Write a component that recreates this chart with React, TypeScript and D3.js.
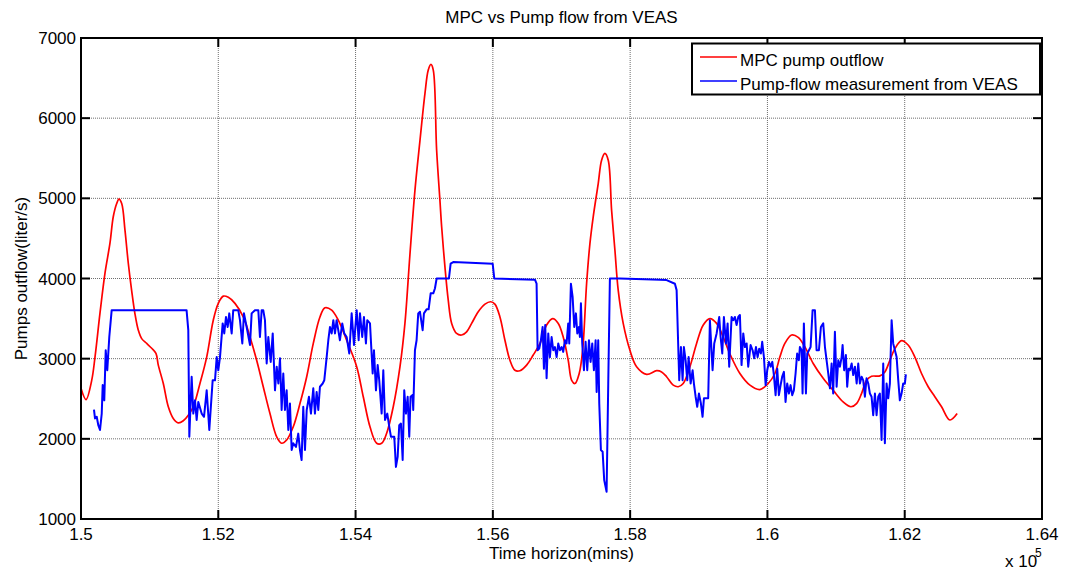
import React from "react";
import * as d3 from "d3";

const title = "MPC vs Pump flow from VEAS";
const xLabel = "Time horizon(mins)";
const yLabel = "Pumps outflow(liter/s)";
const seriesNames = ["MPC pump outflow", "Pump-flow measurement from VEAS"];
const seriesColors = ["#ff0000", "#0000ff"];

const xTicks = [150000, 152000, 154000, 156000, 158000, 160000, 162000, 164000];
const xTickLabels = ["1.5", "1.52", "1.54", "1.56", "1.58", "1.6", "1.62", "1.64"];
const yTicks = [1000, 2000, 3000, 4000, 5000, 6000, 7000];

// [time (mins), flow (liter/s)]
const mpcOutflow: [number, number][] = [
  [150000, 2630], [150073, 2490], [150156, 2730], [150204, 3020], [150277, 3570],
  [150350, 4070], [150422, 4440], [150470, 4770], [150520, 4935], [150553, 4990],
  [150593, 4935], [150641, 4600], [150689, 4190], [150738, 3850], [150786, 3560],
  [150835, 3355], [150884, 3250], [150957, 3190], [151030, 3130], [151092, 3065],
  [151126, 2920], [151199, 2690], [151272, 2400], [151344, 2255], [151417, 2200],
  [151490, 2225], [151563, 2295], [151636, 2400], [151733, 2690], [151831, 3020],
  [151927, 3480], [152000, 3690], [152073, 3780], [152146, 3765], [152243, 3690],
  [152364, 3520], [152462, 3270], [152559, 2980], [152655, 2650], [152753, 2315],
  [152851, 2025], [152923, 1945], [152996, 1985], [153092, 2150], [153190, 2440],
  [153288, 2775], [153384, 3190], [153481, 3520], [153554, 3635], [153652, 3605],
  [153748, 3480], [153870, 3230], [154016, 2900], [154112, 2525], [154210, 2150],
  [154307, 1945], [154380, 1945], [154453, 2070], [154549, 2400], [154647, 2900],
  [154719, 3440], [154792, 4300], [154865, 5100], [154938, 5720], [155011, 6310],
  [155059, 6600], [155098, 6670], [155132, 6600], [155181, 5600], [155229, 4975],
  [155254, 4645], [155302, 4145], [155350, 3730], [155400, 3440], [155472, 3315],
  [155545, 3295], [155618, 3335], [155691, 3440], [155787, 3585], [155885, 3680],
  [155968, 3710], [156030, 3680], [156103, 3520], [156176, 3230], [156249, 2980],
  [156322, 2855], [156394, 2850], [156492, 2920], [156588, 3045], [156686, 3190],
  [156783, 3420], [156871, 3500], [156953, 3440], [157025, 3270], [157098, 2980],
  [157148, 2730], [157196, 2690], [157258, 2815], [157308, 3105], [157366, 3940],
  [157414, 4435], [157462, 4770], [157535, 5185], [157584, 5475], [157632, 5560],
  [157681, 5475], [157730, 4850], [157778, 4355], [157826, 3855], [157899, 3440],
  [157997, 3105], [158094, 2900], [158240, 2805], [158386, 2850], [158458, 2835],
  [158531, 2775], [158628, 2670], [158701, 2650], [158773, 2690], [158871, 2900],
  [158968, 3190], [159065, 3420], [159162, 3500], [159260, 3440], [159356, 3270],
  [159453, 3060], [159599, 2815], [159745, 2670], [159890, 2615], [160011, 2690],
  [160109, 2815], [160181, 3020], [160254, 3190], [160352, 3295], [160448, 3265],
  [160546, 3145], [160667, 2940], [160812, 2755], [160958, 2605], [161103, 2460],
  [161216, 2400], [161298, 2440], [161371, 2565], [161444, 2730], [161517, 2780],
  [161638, 2785], [161711, 2835], [161784, 2980], [161857, 3125], [161954, 3225],
  [162050, 3170], [162148, 3020], [162245, 2815], [162342, 2650], [162439, 2525],
  [162537, 2400], [162658, 2235], [162764, 2315],
];

const veasFlow: [number, number][] = [
  [150189, 2365], [150204, 2255], [150229, 2275], [150252, 2170], [150277, 2110],
  [150302, 2315], [150316, 2670], [150339, 2480], [150360, 3105], [150383, 2855],
  [150412, 3270], [150447, 3605], [151538, 3605], [151563, 3355], [151578, 2025],
  [151612, 2775], [151636, 2315], [151661, 2480], [151685, 2235], [151709, 2460],
  [151758, 2315], [151792, 2275], [151831, 2605], [151869, 2110], [151918, 2730],
  [151952, 2730], [151977, 3020], [152000, 2855], [152025, 3020], [152064, 3440],
  [152087, 3315], [152112, 3520], [152137, 3395], [152160, 3565], [152195, 3315],
  [152218, 3605], [152291, 3605], [152316, 3480], [152350, 3190], [152374, 3565],
  [152413, 3395], [152462, 3170], [152486, 3565], [152534, 3605], [152583, 3605],
  [152607, 3270], [152632, 3605], [152655, 3605], [152680, 3480], [152705, 2940],
  [152729, 3270], [152764, 2960], [152793, 3315], [152826, 2605], [152851, 2900],
  [152875, 2690], [152899, 3005], [152923, 2360], [152947, 2815], [152971, 2360],
  [152996, 2605], [153020, 2110], [153044, 2440], [153069, 1860], [153092, 1945],
  [153132, 1900], [153165, 2065], [153190, 1860], [153214, 1735], [153238, 2400],
  [153263, 1860], [153288, 2360], [153321, 2525], [153350, 2315], [153384, 2630],
  [153408, 2315], [153433, 2585], [153457, 2360], [153481, 2650], [153521, 2690],
  [153544, 2730], [153579, 3020], [153603, 3230], [153627, 3395], [153652, 3315],
  [153676, 3480], [153700, 3315], [153724, 3480], [153748, 3355], [153772, 3230],
  [153806, 3440], [153835, 3315], [153870, 3270], [153908, 3065], [153943, 3565],
  [153977, 3170], [154016, 3605], [154045, 3230], [154064, 3565], [154097, 3270],
  [154122, 3520], [154151, 3190], [154170, 3480], [154210, 3440], [154249, 2815],
  [154268, 3105], [154297, 2605], [154322, 2920], [154345, 2730], [154380, 2315],
  [154404, 2855], [154429, 2235], [154462, 2315], [154491, 2150], [154516, 2025],
  [154564, 2025], [154588, 1650], [154613, 1775], [154636, 2170], [154661, 2190],
  [154686, 1735], [154709, 2605], [154734, 2315], [154759, 2525], [154782, 2025],
  [154801, 2525], [154830, 2545], [154840, 2360], [154865, 3105], [154889, 3230],
  [154913, 3565], [154938, 3585], [154977, 3355], [154996, 3565], [155035, 3615],
  [155064, 3615], [155094, 3815], [155132, 3815], [155156, 3875], [155181, 4000],
  [155360, 4000], [155385, 4185], [155423, 4205], [155997, 4185], [156021, 4000],
  [156613, 3985], [156637, 3935], [156652, 3105], [156676, 3125], [156700, 3230],
  [156725, 3395], [156744, 2875], [156763, 3420], [156783, 2755], [156807, 3315],
  [156831, 3020], [156856, 3270], [156880, 3105], [156904, 3145], [156929, 3020],
  [156953, 3190], [156977, 3105], [157002, 3145], [157025, 3085], [157050, 3230],
  [157074, 3190], [157098, 3440], [157113, 3190], [157137, 3935], [157162, 3770],
  [157186, 3395], [157210, 3565], [157230, 3315], [157254, 3395], [157268, 3270],
  [157283, 3690], [157302, 3190], [157327, 2855], [157351, 3210], [157375, 2855],
  [157400, 3230], [157424, 2960], [157448, 3190], [157472, 2855], [157497, 3230],
  [157512, 2585], [157535, 3230], [157550, 2440], [157574, 1860], [157599, 1840],
  [157622, 1485], [157657, 1340], [157681, 2690], [157705, 4000], [157851, 4000],
  [158434, 3985], [158531, 3980], [158652, 3935], [158677, 3855], [158715, 2730],
  [158740, 3145], [158764, 2730], [158783, 3145], [158808, 2980], [158832, 2730],
  [158852, 3020], [158881, 2690], [158910, 2855], [158929, 2690], [158954, 2525],
  [158977, 2400], [159002, 2565], [159031, 2440], [159055, 2275], [159075, 2505],
  [159137, 2505], [159162, 3480], [159201, 2855], [159225, 3190], [159260, 3315],
  [159298, 3520], [159318, 3270], [159342, 3065], [159366, 3520], [159396, 3190],
  [159420, 3440], [159443, 2900], [159478, 3520], [159502, 3480], [159526, 3520],
  [159551, 3420], [159575, 3520], [159599, 3545], [159623, 2920], [159648, 3315],
  [159672, 3145], [159697, 3190], [159720, 2900], [159755, 3170], [159784, 3105],
  [159808, 3005], [159833, 3145], [159857, 3020], [159880, 3125], [159905, 3065],
  [159924, 3210], [159949, 3020], [159974, 2670], [159997, 2855], [160022, 2960],
  [160047, 2900], [160071, 2960], [160094, 2795], [160119, 2545], [160143, 2875],
  [160167, 2545], [160192, 2670], [160215, 2775], [160240, 2835], [160264, 2460],
  [160288, 2690], [160313, 2565], [160337, 2670], [160361, 2545], [160385, 2605],
  [160410, 2815], [160433, 3065], [160458, 2980], [160473, 3145], [160498, 3105],
  [160512, 2565], [160531, 3440], [160561, 2565], [160580, 3065], [160605, 3105],
  [160629, 3145], [160658, 3605], [160692, 3605], [160716, 3105], [160750, 3105],
  [160779, 3395], [160813, 3440], [160838, 3145], [160862, 2980], [160886, 2815],
  [160911, 2630], [160935, 2940], [160958, 2565], [160983, 3335], [161008, 2650],
  [161032, 2980], [161056, 2900], [161081, 3020], [161095, 3170], [161118, 2855],
  [161143, 3045], [161162, 2650], [161183, 2875], [161202, 2855], [161227, 2940],
  [161250, 2795], [161275, 2900], [161300, 2690], [161323, 2940], [161347, 2690],
  [161372, 2775], [161396, 2730], [161420, 2525], [161444, 2755], [161469, 2690],
  [161493, 2565], [161517, 2525], [161541, 2295], [161566, 2565], [161590, 2295],
  [161614, 2525], [161638, 2565], [161663, 1985], [161687, 2940], [161711, 1945],
  [161736, 2690], [161760, 2505], [161784, 2690], [161809, 3480], [161832, 3190],
  [161857, 3105], [161882, 3020], [161906, 2730], [161929, 2480], [161954, 2565],
  [161978, 2690], [162002, 2690], [162017, 2805],
];

const W = 1070;
const H = 571;
const m = { left: 81, right: 1042, top: 38, bottom: 519 };
const FONT = "'Liberation Sans', Arial, Helvetica, sans-serif";

export default function App() {
  const x = d3.scaleLinear().domain([150000, 164000]).range([m.left, m.right]);
  const y = d3.scaleLinear().domain([1000, 7000]).range([m.bottom, m.top]);
  const smoothLine = d3
    .line<[number, number]>()
    .x((d) => x(d[0]))
    .y((d) => y(d[1]))
    .curve(d3.curveCatmullRom.alpha(0.5));
  const line = d3
    .line<[number, number]>()
    .x((d) => x(d[0]))
    .y((d) => y(d[1]));
  const tickLen = 9;

  return (
    <svg
      width={W}
      height={H}
      style={{ position: "absolute", left: 0, top: 0, background: "#fff" }}
      fontFamily={FONT}
    >
      <rect x={0} y={0} width={W} height={H} fill="#fff" />
      {/* grid */}
      <g stroke="#6e6e6e" strokeWidth={1} strokeDasharray="1,1">
        {xTicks.slice(1, -1).map((t) => (
          <line key={"gx" + t} x1={x(t)} x2={x(t)} y1={m.top} y2={m.bottom} />
        ))}
        {yTicks.slice(1, -1).map((t) => (
          <line key={"gy" + t} x1={m.left} x2={m.right} y1={y(t)} y2={y(t)} />
        ))}
      </g>
      {/* data */}
      <path d={smoothLine(mpcOutflow) || ""} fill="none" stroke={seriesColors[0]} strokeWidth={1.7} strokeLinejoin="round" />
      <path d={line(veasFlow) || ""} fill="none" stroke={seriesColors[1]} strokeWidth={2} strokeLinejoin="round" />
      {/* axes box */}
      <rect x={m.left} y={m.top} width={m.right - m.left} height={m.bottom - m.top} fill="none" stroke="#000" strokeWidth={2} />
      {/* ticks */}
      <g stroke="#000" strokeWidth={2}>
        {xTicks.map((t) => (
          <g key={"tx" + t}>
            <line x1={x(t)} x2={x(t)} y1={m.bottom} y2={m.bottom - tickLen} />
            <line x1={x(t)} x2={x(t)} y1={m.top} y2={m.top + tickLen} />
          </g>
        ))}
        {yTicks.map((t) => (
          <g key={"ty" + t}>
            <line x1={m.left} x2={m.left + tickLen} y1={y(t)} y2={y(t)} />
            <line x1={m.right} x2={m.right - tickLen} y1={y(t)} y2={y(t)} />
          </g>
        ))}
      </g>
      {/* tick labels */}
      <g fontSize={17} fill="#000">
        {xTicks.map((t, i) => (
          <text key={"lx" + t} x={x(t)} y={540} textAnchor="middle">
            {xTickLabels[i]}
          </text>
        ))}
        {yTicks.map((t) => (
          <text key={"ly" + t} x={76} y={y(t) + 6} textAnchor="end">
            {t}
          </text>
        ))}
      </g>
      {/* exponent */}
      <text x={1005} y={567} fontSize={17}>
        x 10
      </text>
      <text x={1035} y={557} fontSize={12}>
        5
      </text>
      {/* title & axis labels */}
      <text x={(m.left + m.right) / 2} y={23} textAnchor="middle" fontSize={17}>
        {title}
      </text>
      <text x={(m.left + m.right) / 2} y={559} textAnchor="middle" fontSize={17}>
        {xLabel}
      </text>
      <text
        transform={`translate(27, ${(m.top + m.bottom) / 2}) rotate(-90)`}
        textAnchor="middle"
        fontSize={17}
      >
        {yLabel}
      </text>
      {/* legend */}
      <g>
        <rect x={692} y={43.5} width={348} height={51} fill="#fff" stroke="#000" strokeWidth={2} />
        {seriesNames.map((n, i) => (
          <g key={n}>
            <line x1={700} x2={737} y1={57 + i * 24} y2={57 + i * 24} stroke={seriesColors[i]} strokeWidth={1.5} />
            <text x={740} y={66 + i * 23.5} fontSize={17}>
              {n}
            </text>
          </g>
        ))}
      </g>
    </svg>
  );
}
